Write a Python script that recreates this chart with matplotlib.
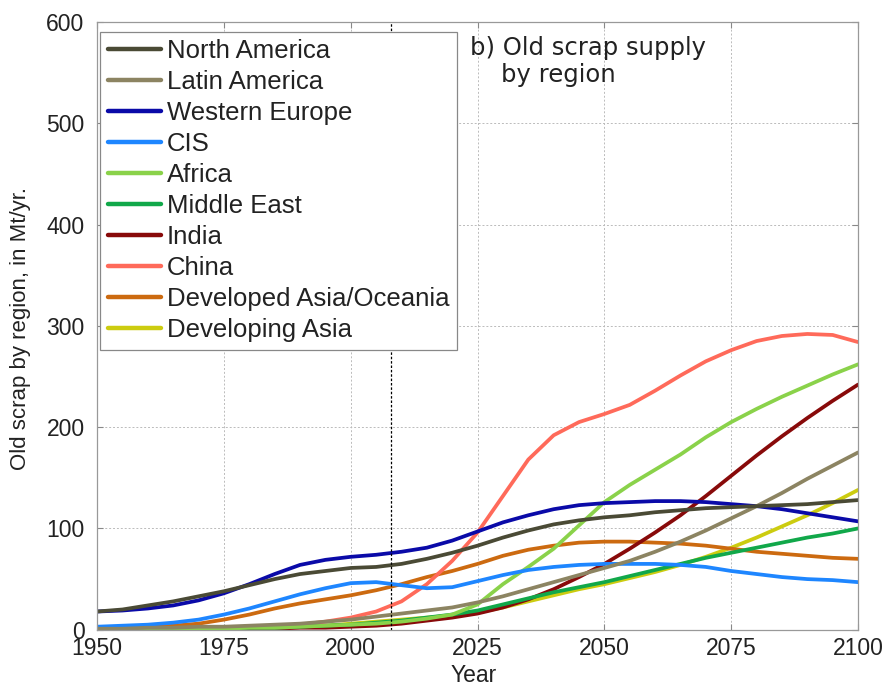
import numpy as np
import matplotlib.pyplot as plt

years = np.arange(1950, 2101, 5)

# old scrap supply by region, Mt/yr
north_america = [18, 20, 24, 28, 33, 38, 44, 50, 55, 58, 61, 62, 65, 70, 76, 83,
                 91, 98, 104, 108, 111, 113, 116, 118, 120, 121, 122, 123, 124, 126, 128]
latin_america = [1, 1, 2, 2, 3, 3, 4, 5, 6, 8, 10, 13, 16, 19, 22, 27,
                 33, 40, 47, 54, 61, 68, 77, 87, 98, 110, 122, 135, 149, 162, 175]
western_europe = [18, 19, 21, 24, 29, 36, 45, 55, 64, 69, 72, 74, 77, 81, 88, 97,
                  106, 113, 119, 123, 125, 126, 127, 127, 126, 124, 122, 119, 115, 111, 107]
cis = [3, 4, 5, 7, 10, 15, 21, 28, 35, 41, 46, 47, 44, 41, 42, 48,
       54, 59, 62, 64, 65, 65, 65, 64, 62, 58, 55, 52, 50, 49, 47]
africa = [0, 0, 0, 1, 1, 1, 2, 2, 3, 4, 5, 6, 8, 11, 15, 25,
          45, 62, 80, 103, 126, 143, 158, 173, 190, 205, 218, 230, 241, 252, 262]
middle_east = [0, 0, 0, 1, 1, 1, 2, 2, 3, 4, 5, 7, 9, 12, 15, 19,
               25, 31, 37, 42, 47, 53, 59, 65, 71, 76, 81, 86, 91, 95, 100]
india = [0, 0, 0, 0, 0, 1, 1, 1, 2, 2, 3, 4, 6, 9, 12, 16,
         22, 30, 40, 52, 65, 80, 96, 113, 132, 152, 172, 191, 209, 226, 242]
china = [0, 0, 0, 0, 1, 1, 2, 3, 5, 8, 12, 18, 28, 45, 68, 96,
         132, 168, 192, 205, 213, 222, 236, 251, 265, 276, 285, 290, 292, 291, 284]
dev_asia_oceania = [2, 2, 3, 4, 6, 10, 15, 21, 26, 30, 34, 39, 45, 52, 58, 65,
                    73, 79, 83, 86, 87, 87, 86, 85, 83, 80, 77, 75, 73, 71, 70]
developing_asia = [0, 0, 0, 1, 1, 1, 2, 2, 3, 4, 6, 8, 10, 12, 14, 17,
                   22, 28, 34, 40, 45, 51, 57, 64, 72, 81, 91, 102, 113, 125, 138]

regions = ['North America', 'Latin America', 'Western Europe', 'CIS', 'Africa',
           'Middle East', 'India', 'China', 'Developed Asia/Oceania', 'Developing Asia']
series = [north_america, latin_america, western_europe, cis, africa,
          middle_east, india, china, dev_asia_oceania, developing_asia]
colors = ['#4a4a35', '#8c8462', '#0a0aa8', '#1e86ff', '#8ad24a',
          '#11a84a', '#880a0a', '#ff6a5a', '#cc6a10', '#cccc10']

plt.rcParams['font.family'] = ['Liberation Sans', 'DejaVu Sans']

fig = plt.figure(figsize=(8.91, 6.86), dpi=100)
ax = fig.add_axes([0.109, 0.082, 0.854, 0.886])

# plot back to front so the first regions sit on top
for name, vals, c in zip(regions[::-1], series[::-1], colors[::-1]):
    ax.plot(years, vals, color=c, lw=2.7, solid_capstyle='round',
            solid_joinstyle='round', label=name)

ax.axvline(2008, color='black', lw=0.9, ls=(0, (2, 1.5)))

ax.set_xlim(1950, 2100)
ax.set_ylim(0, 600)
ax.set_xticks(np.arange(1950, 2101, 25))
ax.set_yticks(np.arange(0, 601, 100))
ax.grid(True, color='#bbbbbb', ls=(0, (2, 2)), lw=0.7)
ax.tick_params(direction='in', top=True, right=True, labelsize=16.5,
               length=4, color='#888888', labelcolor='#222222')
ax.tick_params(axis='x', pad=5)
ax.tick_params(axis='y', pad=9)
for s in ax.spines.values():
    s.set_color('#999999')
    s.set_linewidth(0.9)

ax.set_xlabel('Year', fontsize=16.5, color='#222222')
ax.xaxis.set_label_coords(0.495, -0.056)
ax.set_ylabel('Old scrap by region, in Mt/yr.', fontsize=16, color='#222222')
ax.yaxis.set_label_coords(-0.087, 0.495)

handles, labels = ax.get_legend_handles_labels()
leg = ax.legend(handles[::-1], labels[::-1], loc='upper left',
                bbox_to_anchor=(0.004, 0.984), fontsize=18.5, fancybox=False,
                edgecolor='#888888', framealpha=1, handlelength=2.05,
                labelspacing=0.27, handletextpad=0.25, borderpad=0.3,
                borderaxespad=0)
leg.get_frame().set_linewidth(0.9)
for h in leg.get_lines():
    h.set_linewidth(3.2)
for t in leg.get_texts():
    t.set_color('#222222')

ax.text(0.49, 0.977, 'b) Old scrap supply\n    by region', transform=ax.transAxes,
        fontsize=17.5, family='DejaVu Sans', color='#222222', va='top',
        linespacing=1.15)

fig.savefig('out.png', dpi=100)
